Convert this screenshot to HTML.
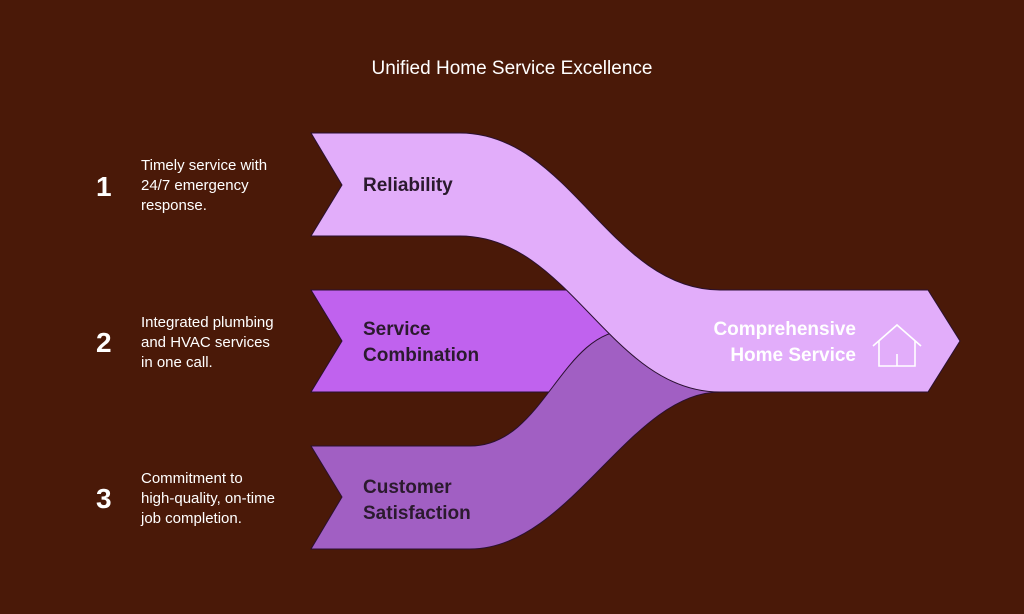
<!DOCTYPE html>
<html><head><style>
body{margin:0;background:#4a1908;}
svg{display:block}
text{font-family:"Liberation Sans",sans-serif}
</style></head><body>
<svg width="1024" height="614" viewBox="0 0 1024 614">
<rect width="1024" height="614" fill="#4a1908"/>
<text x="512" y="74" fill="#fff" font-size="19" text-anchor="middle">Unified Home Service Excellence</text>
<!-- middle band -->
<path d="M311,290 L630,290 L630,392 L311,392 L342,341 Z" fill="#c062ee" stroke="#2a1030" stroke-width="1"/>
<!-- bottom band -->
<path d="M311,446 L470,446 C545,446 560,330 630,330 L720,330 L720,392 C630,392 570,549 470,549 L311,549 L342,497 Z" fill="#a15fc3" stroke="#2a1030" stroke-width="1"/>
<!-- top band -->
<path d="M311,133 L460,133 C570,133 610,290 720,290 L928,290 L960,341 L928,392 L720,392 C610,392 570,236 460,236 L311,236 L342,185 Z" fill="#e2adfa" stroke="#2a1030" stroke-width="1"/>
<g font-weight="bold" font-size="19" fill="#2b1a2e">
<text x="363" y="191">Reliability</text>
<text x="363" y="335">Service</text>
<text x="363" y="361">Combination</text>
<text x="363" y="493">Customer</text>
<text x="363" y="519">Satisfaction</text>
</g>
<g font-weight="bold" font-size="19" fill="#fff" text-anchor="end">
<text x="856" y="335">Comprehensive</text>
<text x="856" y="361">Home Service</text>
</g>
<g fill="none" stroke="#fff" stroke-width="1.6">
<path d="M873,346 L897,325 L921,346"/>
<path d="M879,341 L879,366 L915,366 L915,341"/>
<path d="M897,354 L897,366"/>
</g>
<g font-weight="bold" font-size="28" fill="#fff">
<text x="96" y="196">1</text>
<text x="96" y="352">2</text>
<text x="96" y="508">3</text>
</g>
<g font-size="15" fill="#fff">
<text x="141" y="170">Timely service with</text>
<text x="141" y="190">24/7 emergency</text>
<text x="141" y="210">response.</text>
<text x="141" y="327">Integrated plumbing</text>
<text x="141" y="347">and HVAC services</text>
<text x="141" y="367">in one call.</text>
<text x="141" y="483">Commitment to</text>
<text x="141" y="503">high-quality, on-time</text>
<text x="141" y="523">job completion.</text>
</g>
</svg>
</body></html>
